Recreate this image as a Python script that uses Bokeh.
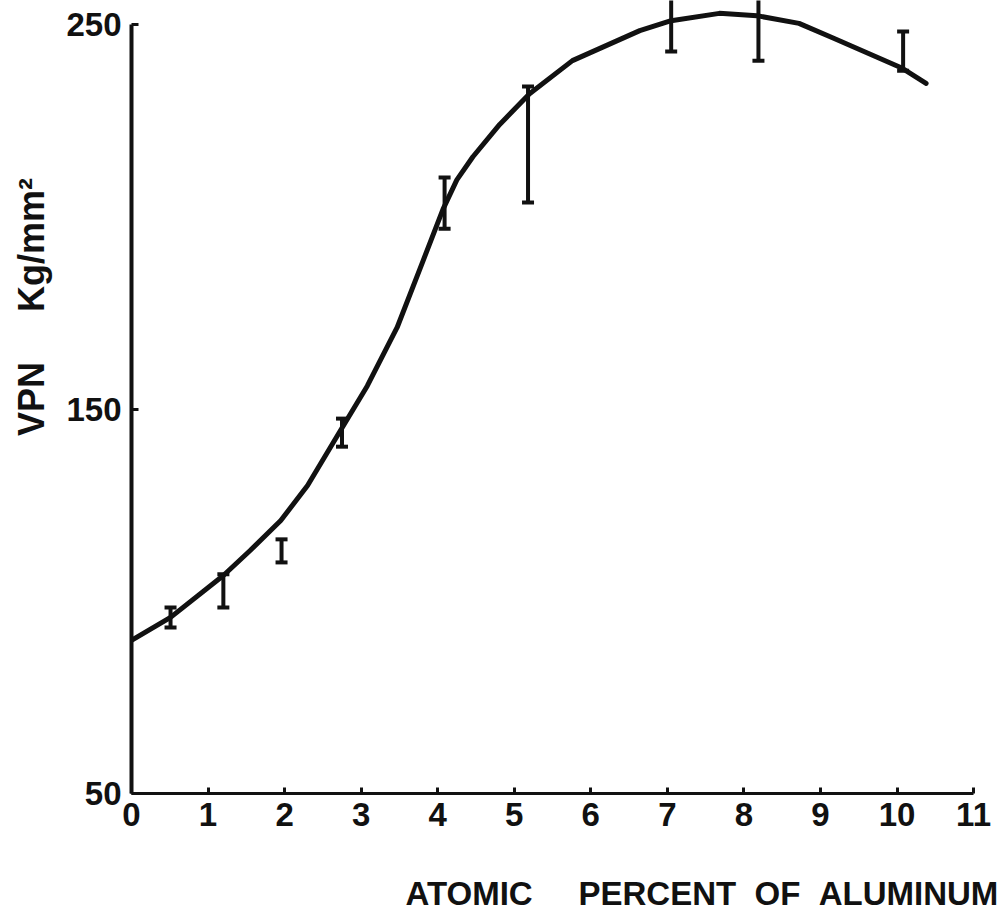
from bokeh.plotting import figure
from bokeh.models import (Range1d, FixedTicker, ColumnDataSource, Whisker, TeeHead, LinearAxis)
from bokeh.embed import file_html
from bokeh.resources import INLINE

# ---- data ----
curve_al = [0.0, 0.51, 1.2, 1.55, 1.95, 2.30, 2.73, 3.08, 3.47, 3.81, 4.07, 4.25, 4.46, 4.81,
            5.2, 5.76, 6.64, 7.05, 7.68, 8.17, 8.72, 9.15, 10.07, 10.38]
curve_vpn = [89.8, 95.8, 106.7, 113.2, 121.0, 130.1, 144.4, 156.0, 171.2, 188.6, 202.0, 209.6, 215.6, 224.0,
             232.0, 240.6, 248.4, 251.0, 252.9, 252.3, 250.3, 246.6, 238.6, 234.7]

err_al = [0.51, 1.20, 1.96, 2.75, 4.09, 5.18, 7.05, 8.19, 10.08]
err_low = [93.2, 98.4, 110.1, 140.2, 196.9, 203.7, 243.0, 240.6, 238.0]
err_high = [98.4, 107.0, 116.1, 147.5, 210.2, 233.9, 258.0, 258.0, 248.2]

x_ticks = [0, 1, 2, 3, 4, 5, 6, 7, 8, 9, 10, 11]
y_ticks = [50, 150, 250]
NB = "\u00a0"
x_title = "ATOMIC" + NB * 5 + "PERCENT" + NB * 2 + "OF" + NB * 2 + "ALUMINUM"
y_title = "VPN" + NB * 5 + "Kg/mm\u00b2"

# ---- geometry (pixels) ----
W, H = 1006, 914
LEFT, BOTTOM = 131, 121
frame_w = W - LEFT
frame_h = H - BOTTOM
PX_X = 76.55   # pixels per x unit
PX_Y = 3.845   # pixels per y unit
x_end = frame_w / PX_X
y_start = 50
y_end = y_start + frame_h / PX_Y

FONT = "Liberation Sans"
INK = "#111111"

p = figure(width=W, height=H, output_backend="svg", toolbar_location=None,
           x_range=Range1d(0, x_end), y_range=Range1d(y_start, y_end),
           min_border_left=LEFT, min_border_right=0, min_border_top=0,
           min_border_bottom=BOTTOM, outline_line_color=None,
           background_fill_color="white", border_fill_color="white")
p.grid.visible = False

def style_labels(ax, size="33px"):
    ax.major_label_text_font = FONT
    ax.major_label_text_font_style = "bold"
    ax.major_label_text_font_size = "33px"
    ax.major_label_text_color = INK
    ax.axis_label_text_font = FONT
    ax.axis_label_text_font_style = "bold"
    ax.axis_label_text_font_size = size
    ax.axis_label_text_color = INK
    ax.minor_tick_line_color = None

xa = p.xaxis[0]
xa.ticker = FixedTicker(ticks=x_ticks)
xa.bounds = (0, 11)
xa.axis_line_width = 3
xa.axis_line_color = INK
xa.major_tick_in = 6
xa.major_tick_out = 0
xa.major_tick_line_width = 3
xa.major_tick_line_color = INK
xa.major_label_standoff = 9
style_labels(xa)

ya = p.yaxis[0]
ya.ticker = FixedTicker(ticks=y_ticks)
ya.bounds = (50, 250)
ya.axis_line_width = 4
ya.axis_line_color = INK
ya.major_tick_in = 7
ya.major_tick_out = 0
ya.major_tick_line_width = 3
ya.major_tick_line_color = INK
ya.major_label_standoff = 10
style_labels(ya)

# title-only axes, so the titles sit where the reference has them
xt = LinearAxis(ticker=FixedTicker(ticks=[]), axis_label=NB * 29 + x_title,
                axis_line_color=None, major_tick_line_color=None, axis_label_standoff=46)
style_labels(xt)
p.add_layout(xt, "below")

yt = LinearAxis(ticker=FixedTicker(ticks=[]), axis_label=NB * 18 + y_title,
                axis_line_color=None, major_tick_line_color=None,
                axis_label_standoff=12)
style_labels(yt, "36px")
p.add_layout(yt, "left")

# curve
p.line(curve_al, curve_vpn, line_width=5, line_color=INK, line_join="round", line_cap="round")

# error bars
src = ColumnDataSource(data=dict(x=err_al, lo=err_low, hi=err_high))
wh = Whisker(base="x", lower="lo", upper="hi", source=src, dimension="height",
             line_width=4, line_color=INK,
             upper_head=TeeHead(size=12, line_width=4, line_color=INK),
             lower_head=TeeHead(size=12, line_width=4, line_color=INK))
p.add_layout(wh)

open("out.html", "w").write(file_html(p, INLINE))
